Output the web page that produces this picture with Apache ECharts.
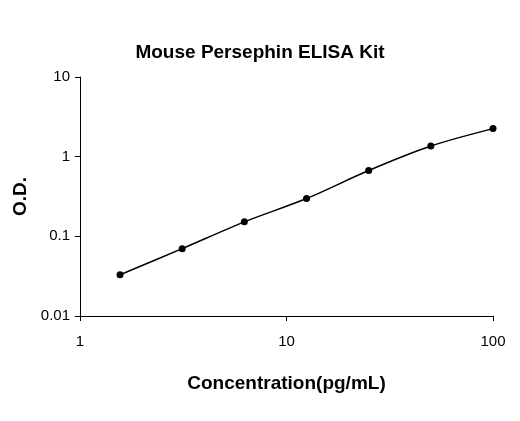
<!DOCTYPE html>
<html><head><meta charset="utf-8">
<script src="https://cdn.jsdelivr.net/npm/echarts@6/dist/echarts.min.js"></script>
<style>html,body{margin:0;padding:0;background:#fff}#c{width:520px;height:421px}</style>
</head><body><div id="c"></div>
<script>
const concentrations = [1.5625, 3.125, 6.25, 12.5, 25, 50, 100];
const odValues = [0.033, 0.070, 0.152, 0.298, 0.67, 1.36, 2.25];
const chart = echarts.init(document.getElementById('c'));
const axisCommon = {
  axisLine:{show:true,lineStyle:{color:'#000',width:1}},
  axisTick:{show:true,inside:false,length:5,lineStyle:{color:'#000'}},
  splitLine:{show:false},minorTick:{show:false}
};
chart.setOption({
  animation:false,
  title:{text:'Mouse Persephin ELISA Kit',left:'center',top:38,
    textStyle:{fontSize:19,fontWeight:'bold',fontFamily:'Liberation Sans',color:'#000'}},
  grid:{left:80,right:27,top:77,bottom:105},
  xAxis:Object.assign({type:'log',logBase:10,min:1,max:100,
    axisLabel:{color:'#000',fontSize:15,fontFamily:'Liberation Sans',margin:18},
    name:'Concentration(pg/mL)',nameLocation:'middle',nameGap:58,
    nameTextStyle:{fontSize:19,fontWeight:'bold',fontFamily:'Liberation Sans',color:'#000'}},axisCommon),
  yAxis:Object.assign({type:'log',logBase:10,min:0.01,max:10,
    axisLabel:{color:'#000',fontSize:15,fontFamily:'Liberation Sans',margin:10},
    name:'O.D.',nameLocation:'middle',nameGap:50,
    nameTextStyle:{fontSize:19,fontWeight:'bold',fontFamily:'Liberation Sans',color:'#000'}},axisCommon),
  series:[{type:'line',smooth:0.3,data:concentrations.map((c,i)=>[c,odValues[i]]),
    symbol:'circle',symbolSize:7,itemStyle:{color:'#000'},lineStyle:{color:'#000',width:1.5}}]
});
</script></body></html>
